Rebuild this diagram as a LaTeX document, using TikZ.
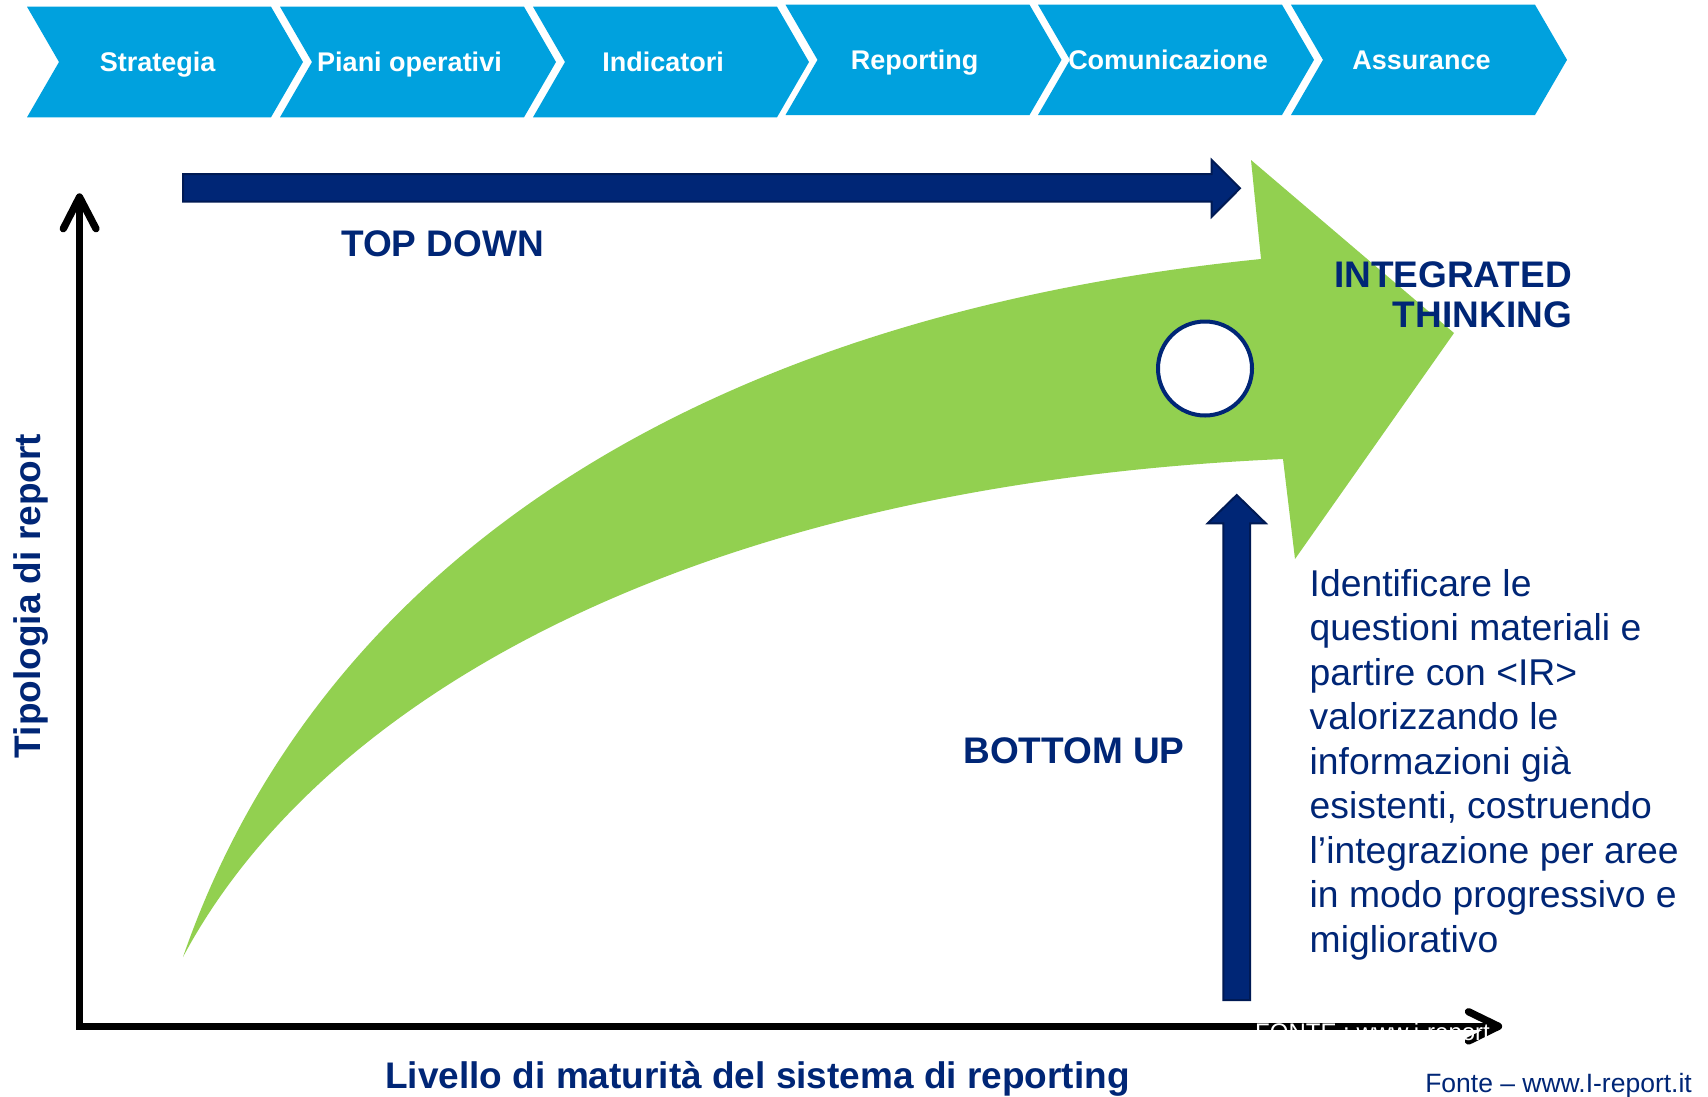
\documentclass[tikz,border=0pt]{standalone}
\usepackage{fontspec}
\setmainfont{Liberation Sans}
\definecolor{chev}{RGB}{0,161,222}
\definecolor{navy}{RGB}{0,38,118}
\definecolor{navyd}{RGB}{0,26,84}
\definecolor{lgreen}{RGB}{146,208,80}
\tikzset{
  chevtext/.style={text=white, font=\bfseries\fontsize{27}{32}\selectfont, inner sep=0pt, anchor=base},
  boldlbl/.style={text=navy, font=\bfseries\fontsize{37}{40}\selectfont, inner sep=0pt},
  axislbl/.style={text=navy, font=\bfseries\fontsize{37}{44}\selectfont, inner sep=0pt},
  blockarrow/.style={fill=navy, draw=navyd, line width=2pt, line join=miter},
  axisline/.style={line width=7.3pt, draw=black},
  axistip/.style={line width=7.3pt, draw=black, line cap=round, line join=round},
}
\begin{document}
\begin{tikzpicture}[x=1pt,y=-1pt]
\useasboundingbox (0,0) rectangle (1708,1096);
\fill[white] (0,0) rectangle (1708,1096);

% process chevrons
\foreach \x/\t/\b/\lab/\cx/\n in {27/6.7/117.3/Strategia/157.7/c1,
  280/6.7/117.3/Piani operativi/409.5/c2,
  533/6.7/117.3/Indicatori/663/c3,
  785.5/4.7/115/Reporting/914.7/c4,
  1038/4.7/115/Comunicazione/1168/c5,
  1291/4.7/115/Assurance/1421.5/c6}{
  \fill[chev] (\x,\t) -- ({\x+244},\t) -- ({\x+276},{(\t+\b)/2}) -- ({\x+244},\b) -- (\x,\b) -- ({\x+32},{(\t+\b)/2}) -- cycle;
  \node[chevtext] (\n) at (\cx,{\b-46}) {\lab};
}

% top-down block arrow
\fill[blockarrow] (183,174) -- (1211.7,174) -- (1211.7,160) -- (1240,188.3) -- (1211.7,216.7) -- (1211.7,201.5) -- (183,201.5) -- cycle;

% big green curved arrow
\fill[lgreen] (183,957) .. controls (310,590) and (660,320) .. (1261,259)
  -- (1251,160) -- (1454,333) -- (1295,559) -- (1283,459)
  .. controls (690,485) and (320,700) .. (183,957) -- cycle;

% ring
\node[circle, draw=navy, fill=white, line width=4pt, minimum size=94pt, inner sep=0pt] (ring) at (1205,368.5) {};

% bottom-up block arrow
\fill[blockarrow] (1223.3,1000) -- (1223.3,523.3) -- (1207.7,523.3) -- (1236.7,495) -- (1265.7,523.3) -- (1250,523.3) -- (1250,1000) -- cycle;

% axes
\coordinate (ytip) at (79.5,197);
\coordinate (origin) at (79.5,1026.3);
\coordinate (xtip) at (1498.5,1026.3);
\draw[axisline, line join=miter] (ytip) -- (origin) -- (xtip);
\draw[axistip] (63.3,228.7) -- (ytip) -- (96,228.7);
\draw[axistip] (1468.5,1011.7) -- (xtip) -- (1468.5,1041);

\node[text=white, font=\fontsize{24}{28}\selectfont, inner sep=0pt, anchor=base west] (fonte1) at (1255,1040.5) {FONTE : www.i-report};

% labels
\node[boldlbl, anchor=base] (td) at (442.5,256) {TOP DOWN};
\node[boldlbl, anchor=base] (bu) at (1074,763.3) {BOTTOM UP};
\node[boldlbl, align=right, anchor=north east] (it) at (1572,261.5) {INTEGRATED\\THINKING};

\node[text=navy, font=\fontsize{37.3}{44.5}\selectfont, inner sep=0pt, align=left, anchor=north west] (desc) at (1309.5,569)
 {Identificare le\\questioni materiali e\\partire con <IR>\\valorizzando le\\informazioni già\\esistenti, costruendo\\l’integrazione per aree\\in modo progressivo e\\migliorativo};

\node[axislbl, rotate=90, anchor=base] (ylab) at (40.7,596) {Tipologia di report};
\node[axislbl, anchor=base] (xlab) at (757.5,1088) {Livello di maturità del sistema di reporting};

\node[text=navy, font=\fontsize{26.5}{30}\selectfont, inner sep=0pt, anchor=base east] (src) at (1692,1092) {Fonte – www.I-report.it};
\end{tikzpicture}
\end{document}
